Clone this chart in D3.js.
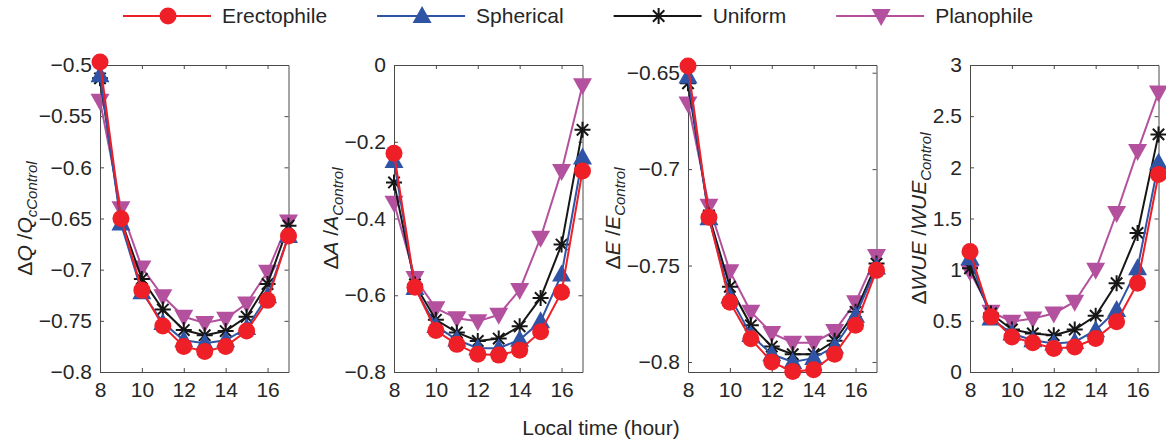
<!DOCTYPE html>
<html>
<head>
<meta charset="utf-8">
<script src="https://cdn.jsdelivr.net/npm/d3@7"></script>
<style>
  body { margin: 0; background: #fff; }
  svg { font-family: "Liberation Sans", Arial, Helvetica, sans-serif; }
</style>
</head>
<body>
<svg id="chart" width="1166" height="441"></svg>
<script>
// local time (hour) on the x axis
const hours = [8, 9, 10, 11, 12, 13, 14, 15, 16, 17];
const xTicks = [8, 10, 12, 14, 16];

const seriesNames = ["Erectophile", "Spherical", "Uniform", "Planophile"];

// ΔQ / Qc_Control
const qErectophile = [-0.497, -0.650, -0.720, -0.755, -0.775, -0.780, -0.775, -0.760, -0.730, -0.667];
const qSpherical   = [-0.510, -0.655, -0.722, -0.752, -0.769, -0.772, -0.769, -0.757, -0.726, -0.667];
const qUniform     = [-0.513, -0.651, -0.709, -0.739, -0.759, -0.764, -0.760, -0.746, -0.714, -0.657];
const qPlanophile  = [-0.535, -0.640, -0.698, -0.726, -0.746, -0.752, -0.748, -0.733, -0.702, -0.653];
const qTicks = [-0.8, -0.75, -0.7, -0.65, -0.6, -0.55, -0.5];

// ΔA / A_Control
const aErectophile = [-0.230, -0.579, -0.692, -0.728, -0.754, -0.756, -0.743, -0.695, -0.592, -0.276];
const aSpherical   = [-0.250, -0.581, -0.680, -0.716, -0.738, -0.738, -0.716, -0.668, -0.546, -0.241];
const aUniform     = [-0.306, -0.572, -0.664, -0.697, -0.719, -0.713, -0.681, -0.607, -0.468, -0.169];
const aPlanophile  = [-0.359, -0.555, -0.634, -0.660, -0.668, -0.651, -0.586, -0.450, -0.276, -0.053];
const aTicks = [-0.8, -0.6, -0.4, -0.2, 0];

// ΔE / E_Control
const eErectophile = [-0.6465, -0.725, -0.769, -0.788, -0.800, -0.805, -0.804, -0.796, -0.781, -0.7525];
const eSpherical   = [-0.652, -0.7255, -0.766, -0.786, -0.796, -0.800, -0.798, -0.792, -0.776, -0.751];
const eUniform     = [-0.6555, -0.724, -0.761, -0.781, -0.792, -0.796, -0.796, -0.789, -0.774, -0.749];
const ePlanophile  = [-0.666, -0.719, -0.753, -0.774, -0.785, -0.790, -0.790, -0.784, -0.769, -0.745];
const eTicks = [-0.8, -0.75, -0.7, -0.65];

// ΔWUE / WUE_Control
const wErectophile = [1.178, 0.540, 0.343, 0.285, 0.229, 0.245, 0.327, 0.491, 0.867, 1.930];
const wSpherical   = [1.112, 0.523, 0.376, 0.311, 0.278, 0.294, 0.409, 0.605, 1.014, 2.044];
const wUniform     = [1.014, 0.572, 0.415, 0.376, 0.360, 0.415, 0.550, 0.867, 1.358, 2.322];
const wPlanophile  = [0.981, 0.589, 0.491, 0.523, 0.572, 0.687, 0.998, 1.554, 2.159, 2.731];
const wTicks = [0, 0.5, 1, 1.5, 2, 2.5, 3];

const colors = ["#ee1f26", "#2f54a5", "#161616", "#b4519f"];
const markers = ["circle", "triangleUp", "asterisk", "triangleDown"];

const panels = [
  { domain: [-0.8, -0.5], ticks: qTicks, label: ["Q", "cControl"], values: [qErectophile, qSpherical, qUniform, qPlanophile] },
  { domain: [-0.8, 0], ticks: aTicks, label: ["A", "Control"], values: [aErectophile, aSpherical, aUniform, aPlanophile] },
  { domain: [-0.8052, -0.646], ticks: eTicks, label: ["E", "Control"], values: [eErectophile, eSpherical, eUniform, ePlanophile] },
  { domain: [0, 3], ticks: wTicks, label: ["WUE", "Control"], values: [wErectophile, wSpherical, wUniform, wPlanophile] }
];

const textColor = "#262626";
const axisColor = "#4a4a4a";
const fontSize = 21;

const svg = d3.select("#chart");

const panelLefts = [100, 394, 688, 970];
const panelWidth = 188.5;
const plotTop = 65, plotBottom = 372;
const panelHeight = plotBottom - plotTop;

// marker shapes, drawn around (0,0)
function addMarker(sel, kind, color) {
  if (kind === "circle") {
    sel.append("circle").attr("r", 8.5).attr("fill", color);
  } else if (kind === "triangleUp") {
    sel.append("path").attr("d", "M0,-10L9.5,7L-9.5,7Z").attr("fill", color);
  } else if (kind === "triangleDown") {
    sel.append("path").attr("d", "M0,10L9.5,-7L-9.5,-7Z").attr("fill", color);
  } else {
    const r = 8, d = 5.7;
    sel.append("path")
      .attr("d", `M${-r},0H${r}M0,${-r}V${r}M${-d},${-d}L${d},${d}M${-d},${d}L${d},${-d}`)
      .attr("stroke", color).attr("stroke-width", 2).attr("fill", "none");
  }
}

function styleAxis(g) {
  g.select(".domain").attr("stroke", axisColor).attr("stroke-width", 1);
  g.selectAll(".tick line").attr("stroke", axisColor).attr("stroke-width", 1);
  g.selectAll(".tick text").attr("fill", textColor).attr("font-size", fontSize);
  g.attr("font-family", null).attr("font-size", null);
}

const fmt = d3.format("~g");

panels.forEach((p, i) => {
  const g = svg.append("g").attr("transform", `translate(${panelLefts[i]},${plotTop})`);

  const x = d3.scaleLinear().domain([8, 17]).range([0, panelWidth]);
  const y = d3.scaleLinear().domain(p.domain).range([panelHeight, 0]);

  // box with inward ticks on all four sides
  g.append("g").attr("transform", `translate(0,${panelHeight})`)
    .call(d3.axisBottom(x).tickValues(xTicks).tickSizeInner(-4).tickSizeOuter(0).tickPadding(10).tickFormat(fmt))
    .call(styleAxis);
  g.append("g")
    .call(d3.axisTop(x).tickValues(xTicks).tickSizeInner(-4).tickSizeOuter(0).tickFormat(""))
    .call(styleAxis);
  const yAxisG = g.append("g")
    .call(d3.axisLeft(y).tickValues(p.ticks).tickSizeInner(-4).tickSizeOuter(0).tickPadding(8).tickFormat(fmt))
    .call(styleAxis);
  g.append("g").attr("transform", `translate(${panelWidth},0)`)
    .call(d3.axisRight(y).tickValues(p.ticks).tickSizeInner(-4).tickSizeOuter(0).tickFormat(""))
    .call(styleAxis);

  // y label, placed just left of the widest tick label
  let maxW = 0;
  yAxisG.selectAll(".tick text").each(function () { maxW = Math.max(maxW, this.getComputedTextLength()); });
  const lx = -(maxW + 8 + 7);
  const label = g.append("text")
    .attr("transform", `translate(${lx},${panelHeight / 2}) rotate(-90)`)
    .attr("text-anchor", "middle")
    .attr("fill", textColor)
    .attr("font-size", fontSize);
  label.append("tspan").text("Δ");
  label.append("tspan").attr("font-style", "italic").text(p.label[0]);
  label.append("tspan").text(" /");
  label.append("tspan").attr("font-style", "italic").text(p.label[0]);
  label.append("tspan").attr("font-style", "italic").attr("font-size", 15).attr("dy", 5).text(p.label[1]);

  // series, drawn back to front so Erectophile sits on top
  const line = d3.line().x((d, k) => x(hours[k])).y(d => y(d));
  [3, 2, 1, 0].forEach(s => {
    const vals = p.values[s];
    g.append("path")
      .datum(vals)
      .attr("fill", "none")
      .attr("stroke", colors[s])
      .attr("stroke-width", 2)
      .attr("d", line);
    vals.forEach((v, k) => {
      const m = g.append("g").attr("transform", `translate(${x(hours[k])},${y(v)})`);
      addMarker(m, markers[s], colors[s]);
    });
  });
});

// x label shared by all panels
svg.append("text")
  .attr("x", 601).attr("y", 435)
  .attr("text-anchor", "middle")
  .attr("fill", textColor)
  .attr("font-size", fontSize)
  .text("Local time (hour)");

// legend across the top
const legend = svg.append("g").attr("transform", "translate(123,16)");
let lxPos = 0;
seriesNames.forEach((name, s) => {
  const item = legend.append("g").attr("transform", `translate(${lxPos},0)`);
  item.append("line").attr("x1", 0).attr("x2", 88).attr("y1", 0).attr("y2", 0)
    .attr("stroke", colors[s]).attr("stroke-width", 2);
  addMarker(item.append("g").attr("transform", "translate(45,0)"), markers[s], colors[s]);
  const t = item.append("text")
    .attr("x", 99).attr("y", 0).attr("dy", "0.35em")
    .attr("fill", textColor)
    .attr("font-size", fontSize)
    .text(name);
  lxPos += 99 + t.node().getComputedTextLength() + 50;
});
</script>
</body>
</html>
